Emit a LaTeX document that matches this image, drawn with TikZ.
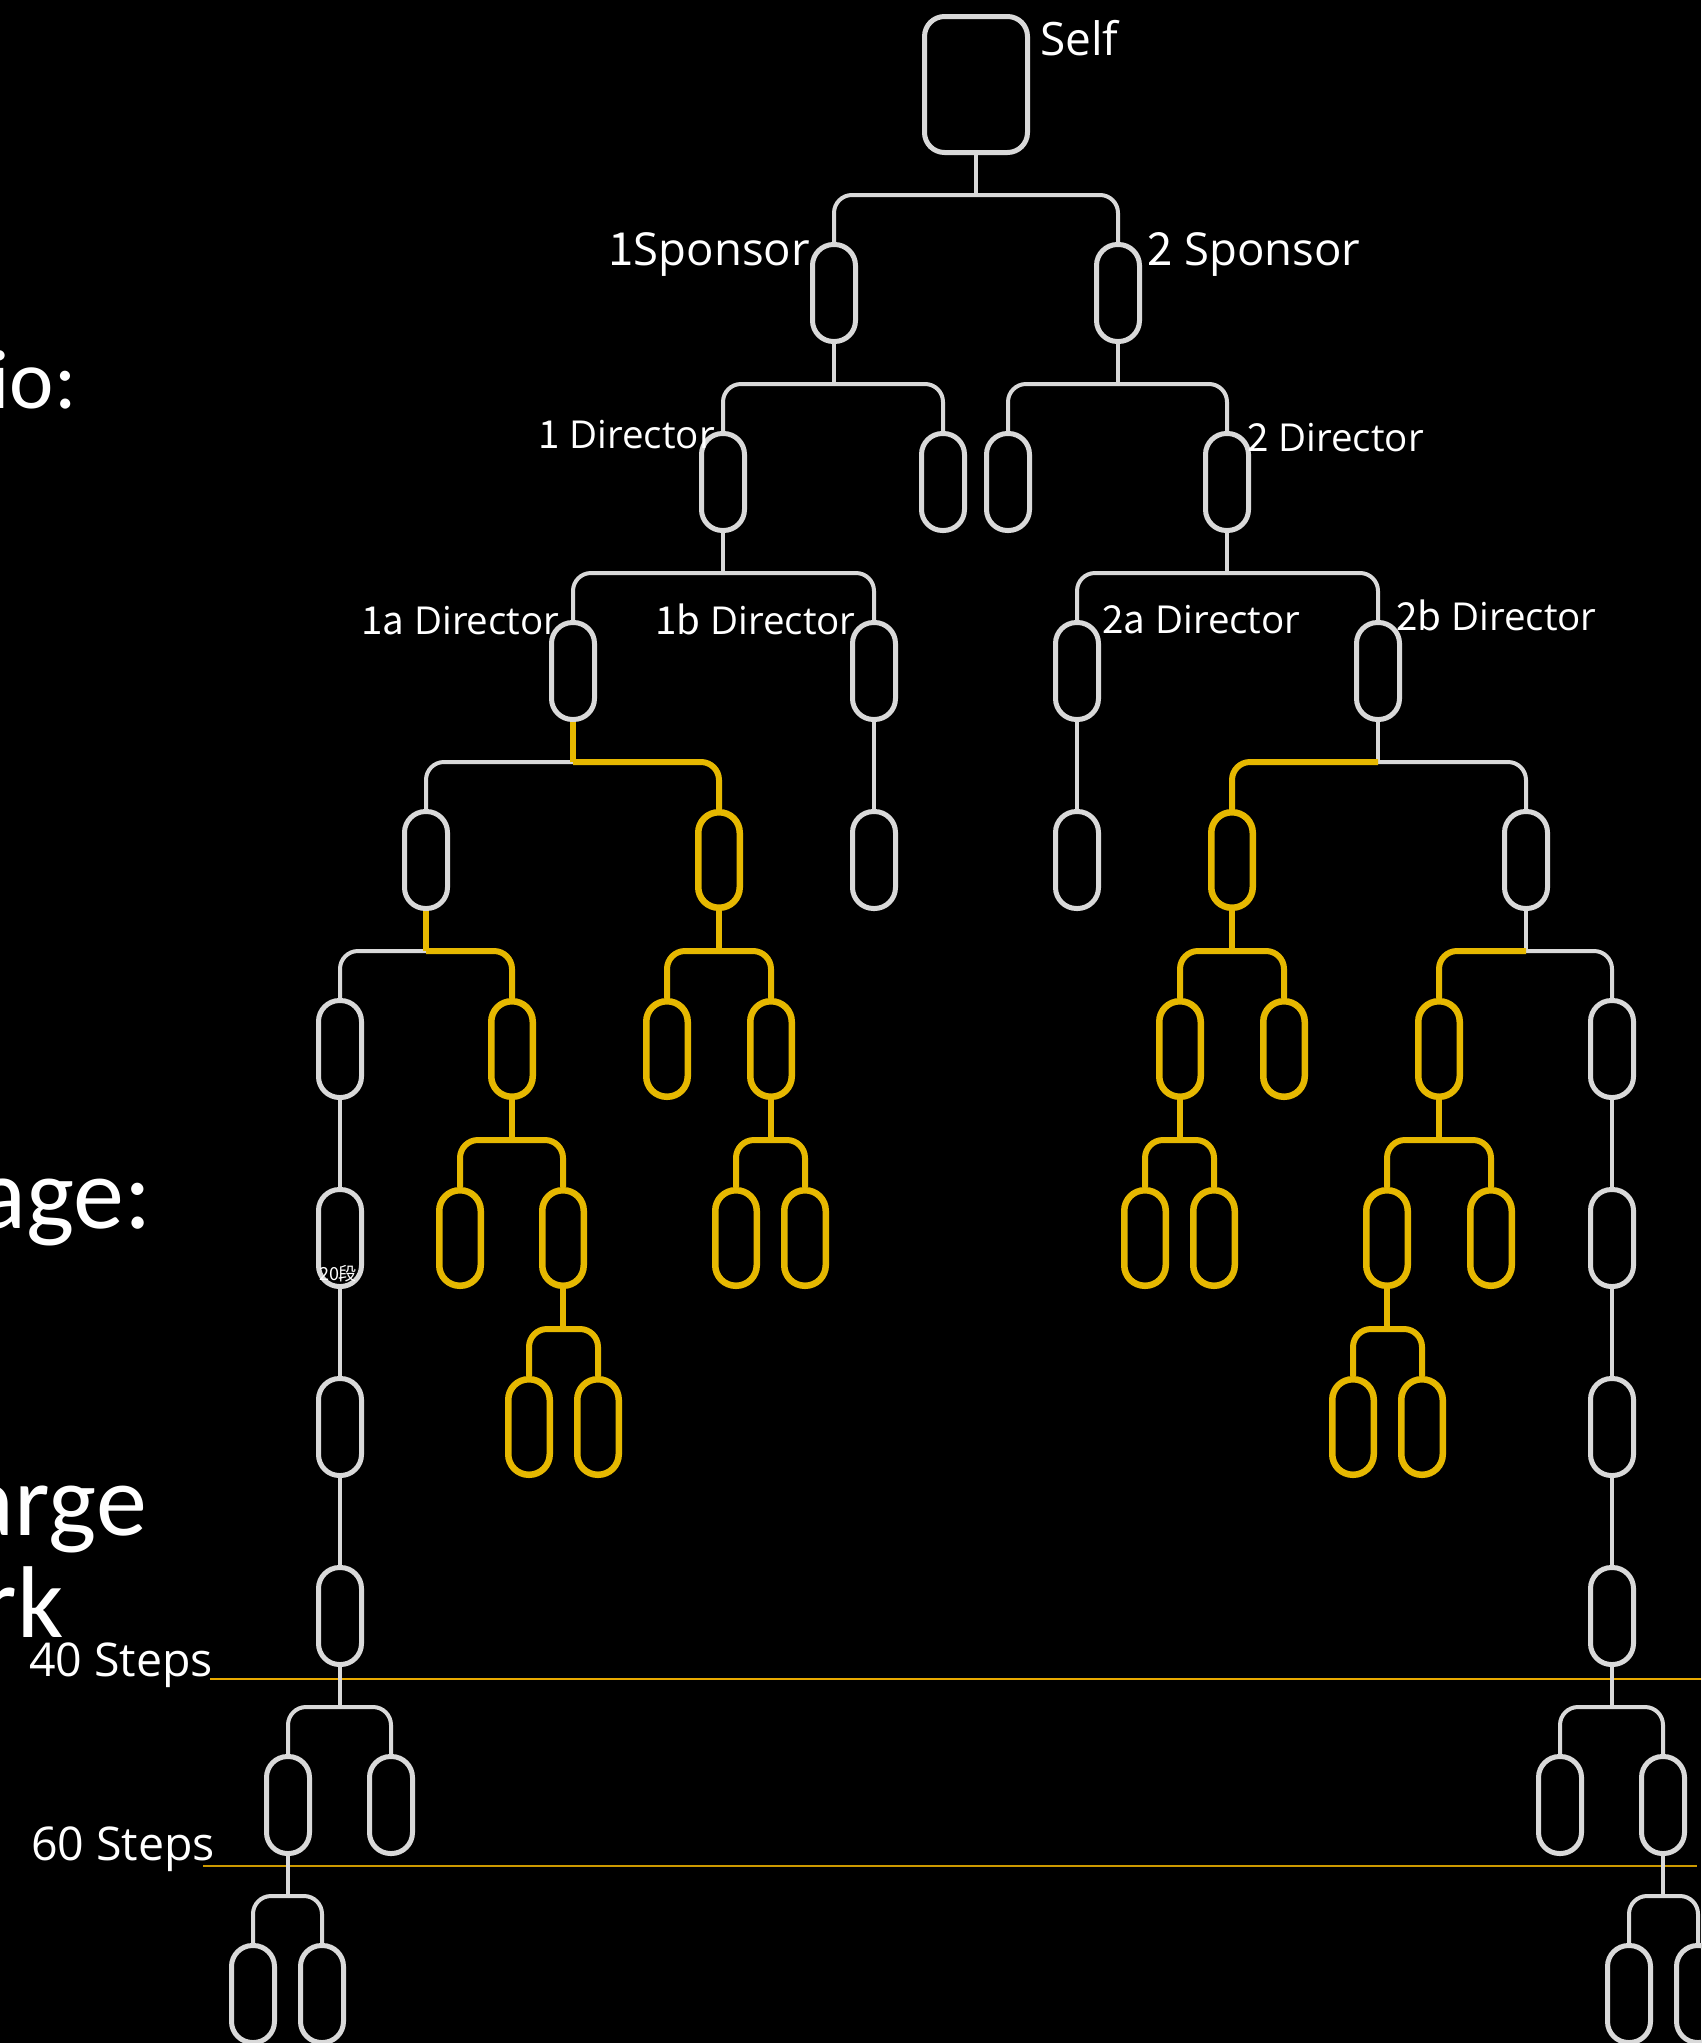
\documentclass[tikz,border=0pt]{standalone}
\usepackage{fontspec}
\setmainfont{Open Sans}
\newfontfamily\jpfont{Noto Sans CJK JP}
\newfontfamily\sidefont{Carlito}
\definecolor{wcol}{RGB}{217,217,217}
\definecolor{ycol}{RGB}{230,184,0}
\definecolor{orA}{RGB}{232,170,0}
\definecolor{orB}{RGB}{204,153,0}
\newcommand\mytrunk[3]{\draw[#3] (#1.south) -- (#1.south |- 0,#2);}
\newcommand\mykid[4]{\draw[#4] (#1.south |- 0,#3) -| (#2.north);}
\begin{document}
\begin{tikzpicture}[x=1pt,y=-1pt,
  wbox/.style={draw=wcol,line width=5pt,rounded corners=21pt,minimum width=43pt,minimum height=97pt,inner sep=0pt},
  ybox/.style={draw=ycol,line width=6.5pt,rounded corners=20.5pt,minimum width=41.5pt,minimum height=95.5pt,inner sep=0pt},
  wl/.style={draw=wcol,line width=4pt,rounded corners=18pt},
  yl/.style={draw=ycol,line width=6pt,rounded corners=18pt},
  lab/.style={text=white,inner sep=0pt},
  fSelf/.style={font=\fontsize{46}{52}\selectfont},
  fSpon/.style={font=\fontsize{45.5}{52}\selectfont},
  fDir/.style={font=\fontsize{38.5}{44}\selectfont},
  fStep/.style={font=\fontsize{46.5}{54}\selectfont},
  fBig/.style={font=\sidefont\fontsize{102}{110}\selectfont},
  orlineA/.style={draw=orA,line width=2pt},
  orlineB/.style={draw=orB,line width=2.5pt}
]
\fill[black] (0,0) rectangle (1701,2043);
\useasboundingbox (0,0) rectangle (1701,2043);

% step lines
\coordinate (oa1) at (210,1679);
\coordinate (oa2) at (1701,1679);
\coordinate (ob1) at (203,1866);
\coordinate (ob2) at (1697,1866);
\draw[orlineA] (oa1) -- (oa2);
\draw[orlineB] (ob1) -- (ob2);

% nodes
\node[draw=wcol,line width=5pt,rounded corners=20pt,minimum width=103pt,minimum height=136pt,inner sep=0pt] (self) at (976,84.5) {};
% level 1
\node[wbox] (s1) at (834,293) {};
\node[wbox] (s2) at (1118,293) {};
% level 2
\node[wbox] (d1) at (723,482) {};
\node[wbox] (d1r) at (943,482) {};
\node[wbox] (d2l) at (1008,482) {};
\node[wbox] (d2) at (1227,482) {};
% level 3
\node[wbox] (n1a) at (573,671) {};
\node[wbox] (n1b) at (874,671) {};
\node[wbox] (n2a) at (1077,671) {};
\node[wbox] (n2b) at (1378,671) {};
% level 4
\node[wbox] (p1) at (426,860) {};
\node[ybox] (p2) at (719,860) {};
\node[wbox] (p3) at (874,860) {};
\node[wbox] (p4) at (1077,860) {};
\node[ybox] (p5) at (1232,860) {};
\node[wbox] (p6) at (1526,860) {};
% level 5
\node[wbox] (q1) at (340,1049) {};
\node[ybox] (q2) at (512,1049) {};
\node[ybox] (q3) at (667,1049) {};
\node[ybox] (q4) at (771,1049) {};
\node[ybox] (q5) at (1180,1049) {};
\node[ybox] (q6) at (1284,1049) {};
\node[ybox] (q7) at (1439,1049) {};
\node[wbox] (q8) at (1612,1049) {};
% level 6
\node[wbox] (r1) at (340,1238) {};
\node[ybox] (r2) at (460,1238) {};
\node[ybox] (r3) at (563,1238) {};
\node[ybox] (r4) at (736,1238) {};
\node[ybox] (r5) at (805,1238) {};
\node[ybox] (r6) at (1145,1238) {};
\node[ybox] (r7) at (1214,1238) {};
\node[ybox] (r8) at (1387,1238) {};
\node[ybox] (r9) at (1491,1238) {};
\node[wbox] (r10) at (1612,1238) {};
% level 7
\node[wbox] (t1) at (340,1427) {};
\node[ybox] (t2) at (529,1427) {};
\node[ybox] (t3) at (598,1427) {};
\node[ybox] (t4) at (1353,1427) {};
\node[ybox] (t5) at (1422,1427) {};
\node[wbox] (t6) at (1612,1427) {};
% level 8
\node[wbox] (u1) at (340,1616) {};
\node[wbox] (u2) at (1612,1616) {};
% level 9
\node[wbox] (v1) at (288,1805) {};
\node[wbox] (v2) at (391,1805) {};
\node[wbox] (v3) at (1560,1805) {};
\node[wbox] (v4) at (1663,1805) {};
% level 10
\node[wbox] (w1) at (253,1994) {};
\node[wbox] (w2) at (322,1994) {};
\node[wbox] (w3) at (1629,1994) {};
\node[wbox] (w4) at (1698,1994) {};

% connectors
\mytrunk{self}{195}{wl} \mykid{self}{s1}{195}{wl} \mykid{self}{s2}{195}{wl}
\mytrunk{s1}{384}{wl} \mykid{s1}{d1}{384}{wl} \mykid{s1}{d1r}{384}{wl}
\mytrunk{s2}{384}{wl} \mykid{s2}{d2l}{384}{wl} \mykid{s2}{d2}{384}{wl}
\mytrunk{d1}{573}{wl} \mykid{d1}{n1a}{573}{wl} \mykid{d1}{n1b}{573}{wl}
\mytrunk{d2}{573}{wl} \mykid{d2}{n2a}{573}{wl} \mykid{d2}{n2b}{573}{wl}
\mykid{n1a}{p1}{762}{wl} \mykid{n1a}{p2}{762}{yl} \mytrunk{n1a}{762}{yl}
\draw[wl] (n1b.south) -- (p3.north);
\draw[wl] (n2a.south) -- (p4.north);
\mykid{n2b}{p6}{762}{wl} \mytrunk{n2b}{762}{wl} \mykid{n2b}{p5}{762}{yl}
\mykid{p1}{q1}{951}{wl} \mykid{p1}{q2}{951}{yl} \mytrunk{p1}{951}{yl}
\mytrunk{p2}{951}{yl} \mykid{p2}{q3}{951}{yl} \mykid{p2}{q4}{951}{yl}
\mytrunk{p5}{951}{yl} \mykid{p5}{q5}{951}{yl} \mykid{p5}{q6}{951}{yl}
\mykid{p6}{q8}{951}{wl} \mytrunk{p6}{951}{wl} \mykid{p6}{q7}{951}{yl}
\draw[wl] (q1.south) -- (r1.north);
\mytrunk{q2}{1140}{yl} \mykid{q2}{r2}{1140}{yl} \mykid{q2}{r3}{1140}{yl}
\mytrunk{q4}{1140}{yl} \mykid{q4}{r4}{1140}{yl} \mykid{q4}{r5}{1140}{yl}
\mytrunk{q5}{1140}{yl} \mykid{q5}{r6}{1140}{yl} \mykid{q5}{r7}{1140}{yl}
\mytrunk{q7}{1140}{yl} \mykid{q7}{r8}{1140}{yl} \mykid{q7}{r9}{1140}{yl}
\draw[wl] (q8.south) -- (r10.north);
\draw[wl] (r1.south) -- (t1.north);
\mytrunk{r3}{1329}{yl} \mykid{r3}{t2}{1329}{yl} \mykid{r3}{t3}{1329}{yl}
\mytrunk{r8}{1329}{yl} \mykid{r8}{t4}{1329}{yl} \mykid{r8}{t5}{1329}{yl}
\draw[wl] (r10.south) -- (t6.north);
\draw[wl] (t1.south) -- (u1.north);
\draw[wl] (t6.south) -- (u2.north);
\mytrunk{u1}{1707}{wl} \mykid{u1}{v1}{1707}{wl} \mykid{u1}{v2}{1707}{wl}
\mytrunk{u2}{1707}{wl} \mykid{u2}{v3}{1707}{wl} \mykid{u2}{v4}{1707}{wl}
\mytrunk{v1}{1896}{wl} \mykid{v1}{w1}{1896}{wl} \mykid{v1}{w2}{1896}{wl}
\mytrunk{v4}{1896}{wl} \mykid{v4}{w3}{1896}{wl} \mykid{v4}{w4}{1896}{wl}

% labels
\node[lab,fSelf,anchor=base west] (lself) at (1040,55) {Self};
\node[lab,fSpon,anchor=base east] (ls1) at (810,265) {{\jpfont 1}Sponsor};
\node[lab,fSpon,anchor=base west] (ls2) at (1147,265) {{\jpfont 2} Sponsor};
\node[lab,fDir,anchor=base east] (ld1) at (715,448) {{\jpfont 1} Director};
\node[lab,fDir,anchor=base west] (ld2) at (1247,451) {{\jpfont 2} Director};
\node[lab,fDir,anchor=base west] (l1a) at (361,634) {{\jpfont 1a} Director};
\node[lab,fDir,anchor=base west] (l1b) at (655,634) {{\jpfont 1b} Director};
\node[lab,fDir,anchor=base west] (l2a) at (1102,633) {{\jpfont 2a} Director};
\node[lab,fDir,anchor=base west] (l2b) at (1396,630) {{\jpfont 2b} Director};
\node[lab,fStep,anchor=base west] (l40) at (29,1676) {40 Steps};
\node[lab,fStep,anchor=base west] (l60) at (31,1860) {60 Steps};
\node[lab,font=\jpfont\fontsize{18}{20}\selectfont,anchor=base] (l20) at (338,1280) {20段};
% side texts, cut off at the left edge as in the reference
\node[lab,font=\sidefont\fontsize{84}{90}\selectfont,anchor=base east] (tio) at (77,408) {io:};
\node[lab,fBig,anchor=base east] (tage) at (152,1228) {age:};
\node[lab,fBig,anchor=base east] (targe) at (147,1535) {arge};
\node[lab,fBig,anchor=base east] (trk) at (64,1637) {rk};
\end{tikzpicture}
\end{document}
